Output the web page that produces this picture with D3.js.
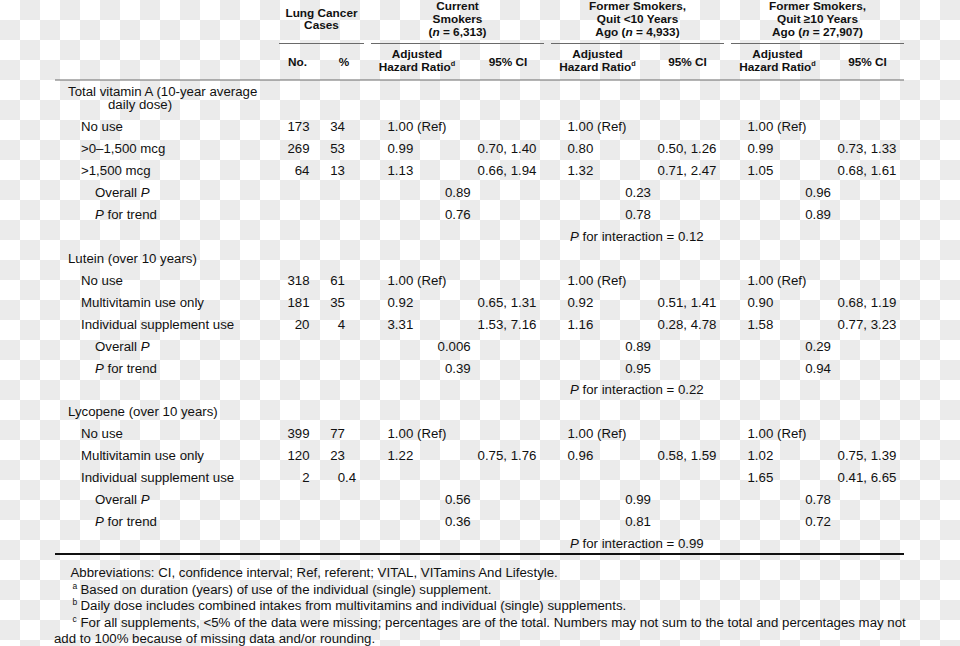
<!DOCTYPE html>
<html>
<head>
<meta charset="utf-8">
<script src="https://cdn.jsdelivr.net/npm/d3@7"></script>
<style>
  html, body { margin: 0; padding: 0; background: #fff; }
  svg { display: block; }
  text { font-family: "Liberation Sans", Arial, Helvetica, sans-serif; fill: #111; }
</style>
</head>
<body>
<svg id="chart" width="960" height="646"></svg>
<script>
// ---------------- DATA ----------------
const groupHeaders = [
  ["Lung Cancer", "Cases"],
  ["Current", "Smokers", "(|n| = 6,313)"],
  ["Former Smokers,", "Quit <10 Years", "Ago (|n| = 4,933)"],
  ["Former Smokers,", "Quit \u226510 Years", "Ago (|n| = 27,907)"]
];
const sectionTitles = [
  ["Total vitamin A (10-year average", "daily dose)"],
  ["Lutein (over 10 years)"],
  ["Lycopene (over 10 years)"]
];
const categories = [
  [">0\u20131,500 mcg", ">1,500 mcg"],
  ["Multivitamin use only", "Individual supplement use"],
  ["Multivitamin use only", "Individual supplement use"]
];
const refLabel = "No use";
const casesNo = [[173, 269, 64], [318, 181, 20], [399, 120, 2]];
const casesPct = [["34", "53", "13"], ["61", "35", "4"], ["77", "23", "0.4"]];
const hrCurrent = [["1.00 (Ref)", "0.99", "1.13"], ["1.00 (Ref)", "0.92", "3.31"], ["1.00 (Ref)", "1.22", ""]];
const ciCurrent = [["", "0.70, 1.40", "0.66, 1.94"], ["", "0.65, 1.31", "1.53, 7.16"], ["", "0.75, 1.76", ""]];
const hrQuitLt10 = [["1.00 (Ref)", "0.80", "1.32"], ["1.00 (Ref)", "0.92", "1.16"], ["1.00 (Ref)", "0.96", ""]];
const ciQuitLt10 = [["", "0.50, 1.26", "0.71, 2.47"], ["", "0.51, 1.41", "0.28, 4.78"], ["", "0.58, 1.59", ""]];
const hrQuitGe10 = [["1.00 (Ref)", "0.99", "1.05"], ["1.00 (Ref)", "0.90", "1.58"], ["1.00 (Ref)", "1.02", "1.65"]];
const ciQuitGe10 = [["", "0.73, 1.33", "0.68, 1.61"], ["", "0.68, 1.19", "0.77, 3.23"], ["", "0.75, 1.39", "0.41, 6.65"]];
const overallP = [["0.89", "0.23", "0.96"], ["0.006", "0.89", "0.29"], ["0.56", "0.99", "0.78"]];
const trendP = [["0.76", "0.78", "0.89"], ["0.39", "0.95", "0.94"], ["0.36", "0.81", "0.72"]];
const interactionP = ["0.12", "0.22", "0.99"];
const footnotes = [
  ["", "Abbreviations: CI, confidence interval; Ref, referent; VITAL, VITamins And Lifestyle."],
  ["a", "Based on duration (years) of use of the individual (single) supplement."],
  ["b", "Daily dose includes combined intakes from multivitamins and individual (single) supplements."],
  ["c", "For all supplements, <5% of the data were missing; percentages are of the total. Numbers may not sum to the total and percentages may not"],
  ["", "add to 100% because of missing data and/or rounding."]
];

// ---------------- LAYOUT ----------------
const W = 960, H = 646;
const svg = d3.select("#chart");

// checkerboard background (transparent-image look)
const defs = svg.append("defs");
const pat = defs.append("pattern").attr("id", "checker")
  .attr("width", 40).attr("height", 40).attr("patternUnits", "userSpaceOnUse");
pat.append("rect").attr("width", 40).attr("height", 40).attr("fill", "#ffffff");
pat.append("rect").attr("x", 20).attr("y", 0).attr("width", 20).attr("height", 20).attr("fill", "#ebebeb");
pat.append("rect").attr("x", 0).attr("y", 20).attr("width", 20).attr("height", 20).attr("fill", "#ebebeb");
svg.append("rect").attr("width", W).attr("height", H).attr("fill", "url(#checker)");

const FS = 13.25;    // body font size
const HFS = 11.8;    // header font size
const tableLeft = 55, tableRight = 904;

// row scale: slot index -> text centre
const y = d3.scaleLinear().domain([0, 19]).range([126.7, 126.7 + 19 * 21.93]);
const base = c => c + 4.6;

// column positions
const col = {
  label1: 68, label2: 81, label3: 95,
  no: 309.5, pct: 345,
  hr: [387.5, 567.5, 747.5],
  ci: [536.5, 716.5, 896.5],
  p: [470.7, 651, 831],
  inter: 570
};
const groupSpans = [[279, 364], [371, 544], [551, 724], [731, 904]];
const subCenters = { no: 297.5, pct: 344, hr: [417, 597.5, 777.5], ci: [508, 687.5, 867.5] };

const g = svg.append("g");

function addText(x, yy, str, opts = {}) {
  const t = g.append("text")
    .attr("x", x).attr("y", yy)
    .attr("font-size", opts.size || FS)
    .attr("font-weight", opts.bold ? "bold" : null)
    .attr("text-anchor", opts.anchor || "start");
  // segments separated by | toggle italic
  const parts = str.split("|");
  parts.forEach((p, i) => {
    if (!p) return;
    t.append("tspan").attr("font-style", i % 2 === 1 ? "italic" : null).text(p);
  });
  if (opts.sup) {
    t.append("tspan").attr("font-size", (opts.size || FS) * 0.62).attr("dy", -5).text(opts.sup);
  }
  return t;
}

// ---------- header ----------
const headerBase = [10, 22.8, 35.7];
groupHeaders.forEach((lines, gi) => {
  const cx = (groupSpans[gi][0] + groupSpans[gi][1]) / 2;
  const offs = gi === 0 ? [16.6, 29.3] : headerBase;
  lines.forEach((ln, li) => addText(cx, offs[li], ln, { size: HFS, bold: true, anchor: "middle" }));
  g.append("line")
    .attr("x1", groupSpans[gi][0]).attr("x2", groupSpans[gi][1])
    .attr("y1", 43.5).attr("y2", 43.5)
    .attr("stroke", "#6a6a6a").attr("stroke-width", 1.2);
});
addText(subCenters.no, 66, "No.", { size: HFS, bold: true, anchor: "middle" });
addText(subCenters.pct, 66, "%", { size: HFS, bold: true, anchor: "middle" });
for (let k = 0; k < 3; k++) {
  addText(subCenters.hr[k], 58.3, "Adjusted", { size: HFS, bold: true, anchor: "middle" });
  addText(subCenters.hr[k], 71, "Hazard Ratio", { size: HFS, bold: true, anchor: "middle", sup: "d" });
  addText(subCenters.ci[k], 66, "95% CI", { size: HFS, bold: true, anchor: "middle" });
}
g.append("line").attr("x1", tableLeft).attr("x2", tableRight)
  .attr("y1", 80).attr("y2", 80).attr("stroke", "#6a6a6a").attr("stroke-width", 1.2);

// ---------- body ----------
const hrCols = [hrCurrent, hrQuitLt10, hrQuitGe10];
const ciCols = [ciCurrent, ciQuitLt10, ciQuitGe10];

function decimalText(x, yy, str) {
  const [intPart, frac] = str.split(".");
  addText(x, yy, intPart, { anchor: "end" });
  if (frac !== undefined) addText(x, yy, "." + frac, { anchor: "start" });
}

sectionTitles.forEach((title, s) => {
  const start = s * 7 - 1;            // slot of section heading
  const headY = y(start);
  title.forEach((ln, li) => {
    const yy = headY - (title.length - 1 - li) * 13.2;
    addText(li === 0 ? col.label1 : 108, base(yy), ln);
  });
  const labels = [refLabel].concat(categories[s]);
  labels.forEach((lab, r) => {
    const yy = base(y(start + 1 + r));
    addText(col.label2, yy, lab);
    addText(col.no, yy, String(casesNo[s][r]), { anchor: "end" });
    decimalText(col.pct, yy, casesPct[s][r]);
    for (let k = 0; k < 3; k++) {
      if (hrCols[k][s][r]) addText(col.hr[k], yy, hrCols[k][s][r]);
      if (ciCols[k][s][r]) addText(col.ci[k], yy, ciCols[k][s][r], { anchor: "end" });
    }
  });
  const yO = base(y(start + 4)), yT = base(y(start + 5)), yI = base(y(start + 6));
  addText(col.label3, yO, "Overall |P|");
  addText(col.label3, yT, "|P| for trend");
  for (let k = 0; k < 3; k++) {
    addText(col.p[k], yO, overallP[s][k], { anchor: "end" });
    addText(col.p[k], yT, trendP[s][k], { anchor: "end" });
  }
  addText(col.inter, yI, "|P| for interaction = " + interactionP[s]);
});

g.append("line").attr("x1", tableLeft).attr("x2", tableRight)
  .attr("y1", 554).attr("y2", 554).attr("stroke", "#111").attr("stroke-width", 2);

// ---------- footnotes ----------
const fy = d3.scaleLinear().domain([0, 4]).range([572.7, 638.7]);
footnotes.forEach((fn, i) => {
  const yy = base(fy(i));
  if (i === 0) addText(70.5, yy, fn[1]);
  else if (i === 4) addText(54, yy, fn[1]);
  else {
    addText(72.5, yy - 5, fn[0], { size: 8.5 });
    addText(80.5, yy, fn[1]);
  }
});
</script>
</body>
</html>
